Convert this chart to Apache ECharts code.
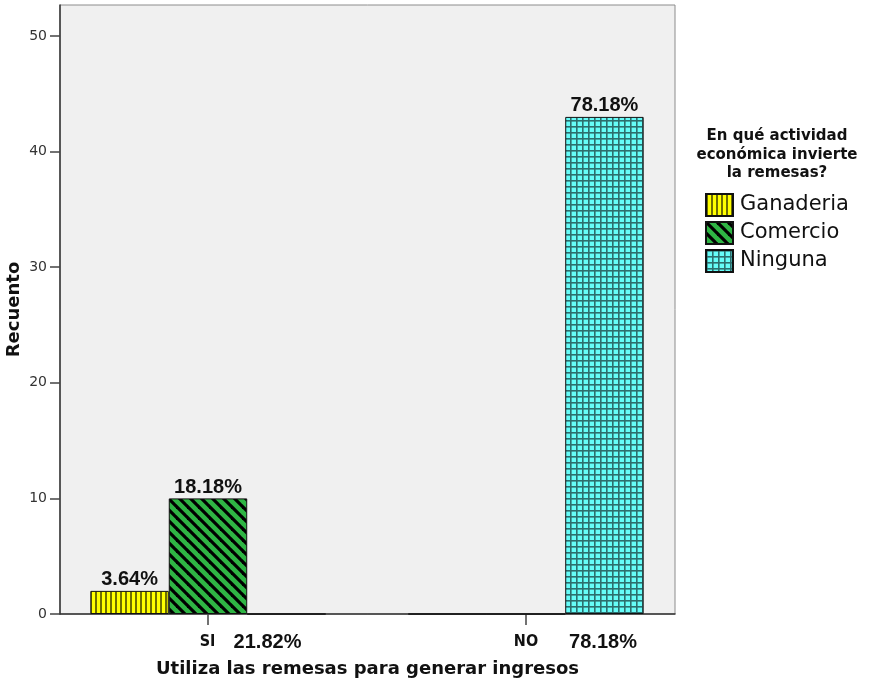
<!DOCTYPE html>
<html>
<head>
<meta charset="utf-8">
<script src="https://cdn.jsdelivr.net/npm/echarts@6/dist/echarts.min.js"></script>
<style>
  html, body { margin: 0; padding: 0; background: #ffffff; }
  #chart { width: 871px; height: 683px; }
</style>
</head>
<body>
<div id="chart"></div>
<script>
// ---- data ----
const categories = ['SI', 'NO'];
const categoryPercents = ['21.82%', '78.18%'];
const seriesNames = ['Ganaderia', 'Comercio', 'Ninguna'];
const ganaderia = [2, 0];
const comercio = [10, 0];
const ninguna = [0, 43];
const ganaderiaPct = ['3.64%', ''];
const comercioPct = ['18.18%', ''];
const ningunaPct = ['', '78.18%'];
const yTicks = [0, 10, 20, 30, 40, 50];
const legendTitle = 'En qué actividad\neconómica invierte\nla remesas?';
const xTitle = 'Utiliza las remesas para generar ingresos';
const yTitle = 'Recuento';

// ---- patterns ----
function makePattern(size, draw) {
  const c = document.createElement('canvas');
  c.width = size; c.height = size;
  const ctx = c.getContext('2d');
  draw(ctx, size);
  return { image: c, repeat: 'repeat' };
}
const yellowPat = makePattern(5, (ctx, s) => {
  ctx.fillStyle = '#ffff00'; ctx.fillRect(0, 0, s, s);
  ctx.fillStyle = '#6e6e00'; ctx.fillRect(0, 0, 2, s);
});
const greenPat = makePattern(11, (ctx, s) => {
  ctx.fillStyle = '#2fb544'; ctx.fillRect(0, 0, s, s);
  ctx.strokeStyle = '#000000'; ctx.lineWidth = 3.2;
  for (let k = -1; k <= 1; k++) {
    ctx.beginPath();
    ctx.moveTo(k * s - 2, -2);
    ctx.lineTo(k * s + s + 2, s + 2);
    ctx.stroke();
  }
});
const cyanPat = makePattern(6, (ctx, s) => {
  ctx.fillStyle = '#66fcf8'; ctx.fillRect(0, 0, s, s);
  ctx.fillStyle = '#2d6e6e';
  ctx.fillRect(0, 0, 1.6, s);
  ctx.fillRect(0, 0, s, 1.6);
});
const patterns = [yellowPat, greenPat, cyanPat];
const values = [ganaderia, comercio, ninguna];
const pcts = [ganaderiaPct, comercioPct, ningunaPct];

const FONT = 'DejaVu Sans';
const AR = 'Liberation Sans, Arial, sans-serif';
const yMax = 52.68;

const chart = echarts.init(document.getElementById('chart'), null, { renderer: 'canvas' });

const richX = {
  pad0: { width: 86 }, pad1: { width: 100 },
  c0: { width: 18, align: 'center', fontFamily: 'DejaVu Sans Condensed', fontWeight: 'bold', fontSize: 16, color: '#111' },
  c1: { width: 26, align: 'center', fontFamily: 'DejaVu Sans Condensed', fontWeight: 'bold', fontSize: 16, color: '#111' },
  g0: { width: 15 }, g1: { width: 28 },
  p: { width: 72, align: 'left', fontFamily: AR, fontWeight: 'bold', fontSize: 20, color: '#111' }
};

const option = {
  animation: false,
  backgroundColor: '#ffffff',
  grid: [
    { left: 60, right: 196, top: 5, bottom: 69, containLabel: false, outerBoundsMode: 'none',
      show: true, backgroundColor: '#f0f0f0', borderColor: '#8c8c8c', borderWidth: 1 },
    { left: 49, right: 186, top: 5, bottom: 69, containLabel: false, outerBoundsMode: 'none' }
  ],
  xAxis: [
    {
      type: 'category', gridIndex: 0, data: categories,
      axisLine: { show: true, lineStyle: { color: '#333', width: 1.5 } },
      axisTick: { show: false }, axisLabel: { show: false }, splitLine: { show: false },
      name: xTitle, nameLocation: 'middle', nameGap: 46,
      nameTextStyle: { fontFamily: FONT, fontWeight: 'bold', fontSize: 18, color: '#111' }
    },
    {
      type: 'category', gridIndex: 1, data: categories,
      axisLine: { show: false },
      axisTick: { show: true, alignWithLabel: true, length: 11, lineStyle: { color: '#444', width: 1.5 } },
      axisLabel: {
        margin: 18,
        formatter: function (v, i) {
          return '{pad' + i + '|}{c' + i + '|' + v + '}{g' + i + '|}{p|' + categoryPercents[i] + '}';
        },
        rich: richX
      }
    }
  ],
  yAxis: [
    {
      type: 'value', gridIndex: 0, min: 0, max: yMax, interval: 10,
      axisLine: { show: true, lineStyle: { color: '#333', width: 1.5 } },
      axisTick: { show: true, length: 10, customValues: yTicks, lineStyle: { color: '#444', width: 1.5 } },
      axisLabel: { customValues: yTicks, margin: 13, fontFamily: FONT, fontSize: 14, color: '#333' },
      splitLine: { show: false },
      name: yTitle, nameLocation: 'middle', nameRotate: 90, nameGap: 37, nameMoveOverlap: false,
      nameTextStyle: { fontFamily: FONT, fontWeight: 'bold', fontSize: 18, color: '#111' }
    },
    {
      type: 'value', gridIndex: 1, min: 0, max: yMax, interval: 10, show: false,
      splitLine: { show: false }
    }
  ],
  legend: {
    orient: 'vertical', left: 700, top: 188,
    itemWidth: 27, itemHeight: 22, itemGap: 4,
    icon: 'rect',
    data: seriesNames,
    textStyle: { fontFamily: FONT, fontSize: 21, lineHeight: 22, color: '#111', padding: [0, 0, 0, 2] }
  },
  graphic: [
    {
      type: 'text', x: 777, y: 127,
      style: {
        text: legendTitle, fontFamily: FONT, fontWeight: 'bold', fontSize: 15,
        lineHeight: 18.5, fill: '#111', align: 'center', verticalAlign: 'top'
      }
    }
  ],
  series: seriesNames.map((name, k) => ({
    name: name, type: 'bar', xAxisIndex: 1, yAxisIndex: 1,
    data: values[k], barGap: '0%', barCategoryGap: '26%',
    itemStyle: { color: patterns[k], borderColor: '#111', borderWidth: 1 },
    label: {
      show: true, position: 'top', distance: 1,
      fontFamily: AR, fontWeight: 'bold', fontSize: 20, color: '#111',
      formatter: function (p) { return pcts[k][p.dataIndex]; }
    }
  }))
};
chart.setOption(option);
</script>
</body>
</html>
